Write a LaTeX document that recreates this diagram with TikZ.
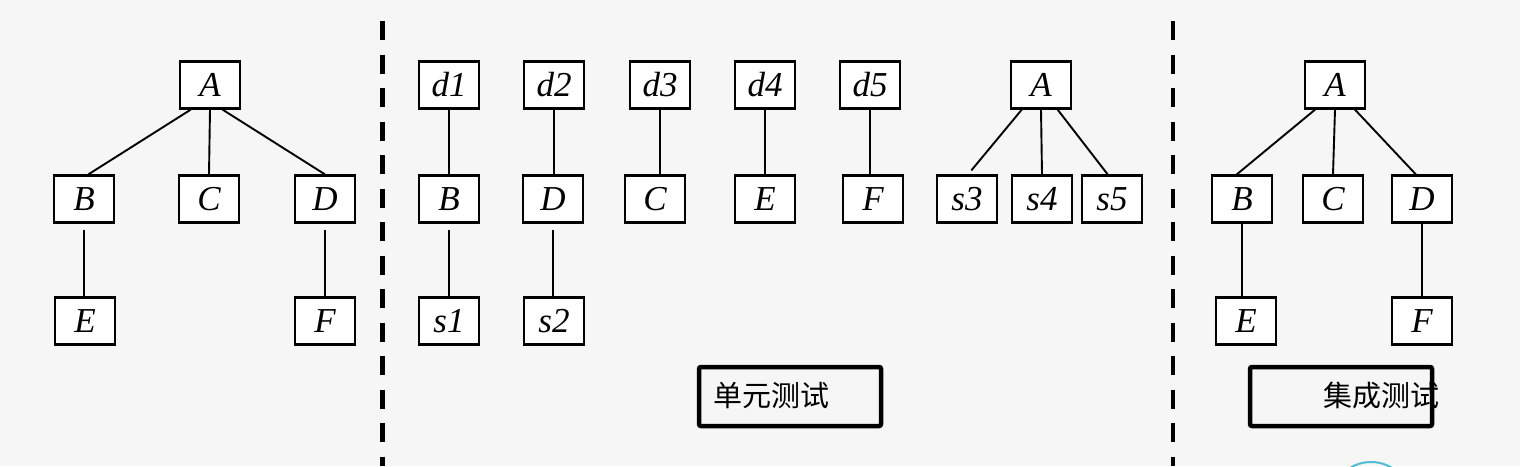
\documentclass[tikz,border=0pt]{standalone}
\usepackage{fontspec}
\setmainfont{Liberation Serif}
\newfontfamily\cjk{Noto Sans CJK SC}
\usetikzlibrary{math}
\definecolor{bgcol}{RGB}{246,246,246}
\definecolor{ringcol}{RGB}{80,190,210}

\begin{document}
\begin{tikzpicture}[x=1pt,y=-1pt,
  blk/.style={draw, line width=2.2pt, fill=white, minimum width=60pt, minimum height=47pt,
    inner sep=0pt, font=\fontsize{35}{37}\selectfont\itshape},
  con/.style={line width=1.9pt},
  sep/.style={line width=4.8pt, dash pattern=on 19pt off 14.5pt},
  tagbox/.style={draw, line width=4.5pt, rounded corners=2pt, minimum width=182pt,
    minimum height=59pt, inner sep=0pt},
  tagtext/.style={font=\cjk\fontsize{29}{31}\selectfont, inner sep=0pt, anchor=west}]
\tikzmath{
\ya=85;
\yb=199;
\yc=321;
}
\useasboundingbox (0,0) rectangle (1520,466);
\fill[bgcol] (0,0) rectangle (1520,466);

 %separators:
 \coordinate (s1top) at (382.5,21);
 \coordinate (s1bot) at (382.5,466);
 \coordinate (s2top) at (1173,21);
 \coordinate (s2bot) at (1173,466);
 \draw[sep] (s1top) -- (s1bot);
 \draw[sep] (s2top) -- (s2bot);

 %left tree
 \node[blk] (A) at (210,\ya) {A};
 \node[blk] (B) at (84,\yb) {B};
 \node[blk] (C) at (209,\yb) {C};
 \node[blk] (D) at (325,\yb) {D};
 \node[blk] (E) at (85,\yc) {E};
 \node[blk] (F) at (325,\yc) {F};
 \draw[con] (A.232) -- (B.80);
 \draw[con] (A.south) -- (C.north);
 \draw[con] (A.297) -- (D.north);
 \draw[con] ([yshift=-6pt]B.south) -- (B.south |- E.north);
 \draw[con] ([yshift=-6pt]D.south) -- (F.north);

 %unit test
 \foreach \i/\x in {1/449,2/554,3/660,4/765,5/870}
   \node[blk] (d\i) at (\x,\ya) {d\i};
 \node[blk] (uB) at (449,\yb) {B};
 \node[blk] (uD) at (553,\yb) {D};
 \node[blk] (uC) at (655,\yb) {C};
 \node[blk] (uE) at (765,\yb) {E};
 \node[blk] (uF) at (873,\yb) {F};
 \node[blk] (uA) at (1041,\ya) {A};
 \node[blk] (s3) at (967,\yb) {s3};
 \node[blk] (s4) at (1042,\yb) {s4};
 \node[blk] (s5) at (1112,\yb) {s5};
 \node[blk] (s1) at (449,\yc) {s1};
 \node[blk] (s2) at (554,\yc) {s2};
 \draw[con] (d1.south) -- (d1.south |- uB.north);
 \draw[con] (d2.south) -- (d2.south |- uD.north);
 \draw[con] (d3.south) -- (d3.south |- uC.north);
 \draw[con] (d4.south) -- (uE.north);
 \draw[con] (d5.south) -- (d5.south |- uF.north);
 \draw[con] ([yshift=-6pt]uB.south) -- (s1.north);
 \draw[con] ([yshift=-6pt]uD.south) -- (uD.south |- s2.north);
 \draw[con] (uA.232) -- ([yshift=4pt]s3.80);
 \draw[con] (uA.south) -- (s4.north);
 \draw[con] (uA.304) -- (s5.100);

 %integration test
 \node[blk] (iA) at (1335,\ya) {A};
 \node[blk] (iB) at (1242,\yb) {B};
 \node[blk] (iC) at (1333,\yb) {C};
 \node[blk] (iD) at (1422,\yb) {D};
 \node[blk] (iE) at (1246,\yc) {E};
 \node[blk] (iF) at (1422,\yc) {F};
 \draw[con] (iA.231) -- (iB.102);
 \draw[con] (iA.south) -- (iC.north);
 \draw[con] (iA.309) -- (iD.104);
 \draw[con] (iB.south) -- (iB.south |- iE.north);
 \draw[con] (iD.south) -- (iF.north);

 %captions
 \node[tagbox] (unit) at (790,396.5) {};
 \node[tagtext] (unittxt) at (713,396) {单元测试};
 \node[tagbox] (integ) at (1341,396.5) {};
 \node[tagtext] (integtxt) at (1323,396) {集成测试};

 %ring at the bottom
 \draw[ringcol, line width=2pt] (1371,502) circle (40);
\end{tikzpicture}
\end{document}
